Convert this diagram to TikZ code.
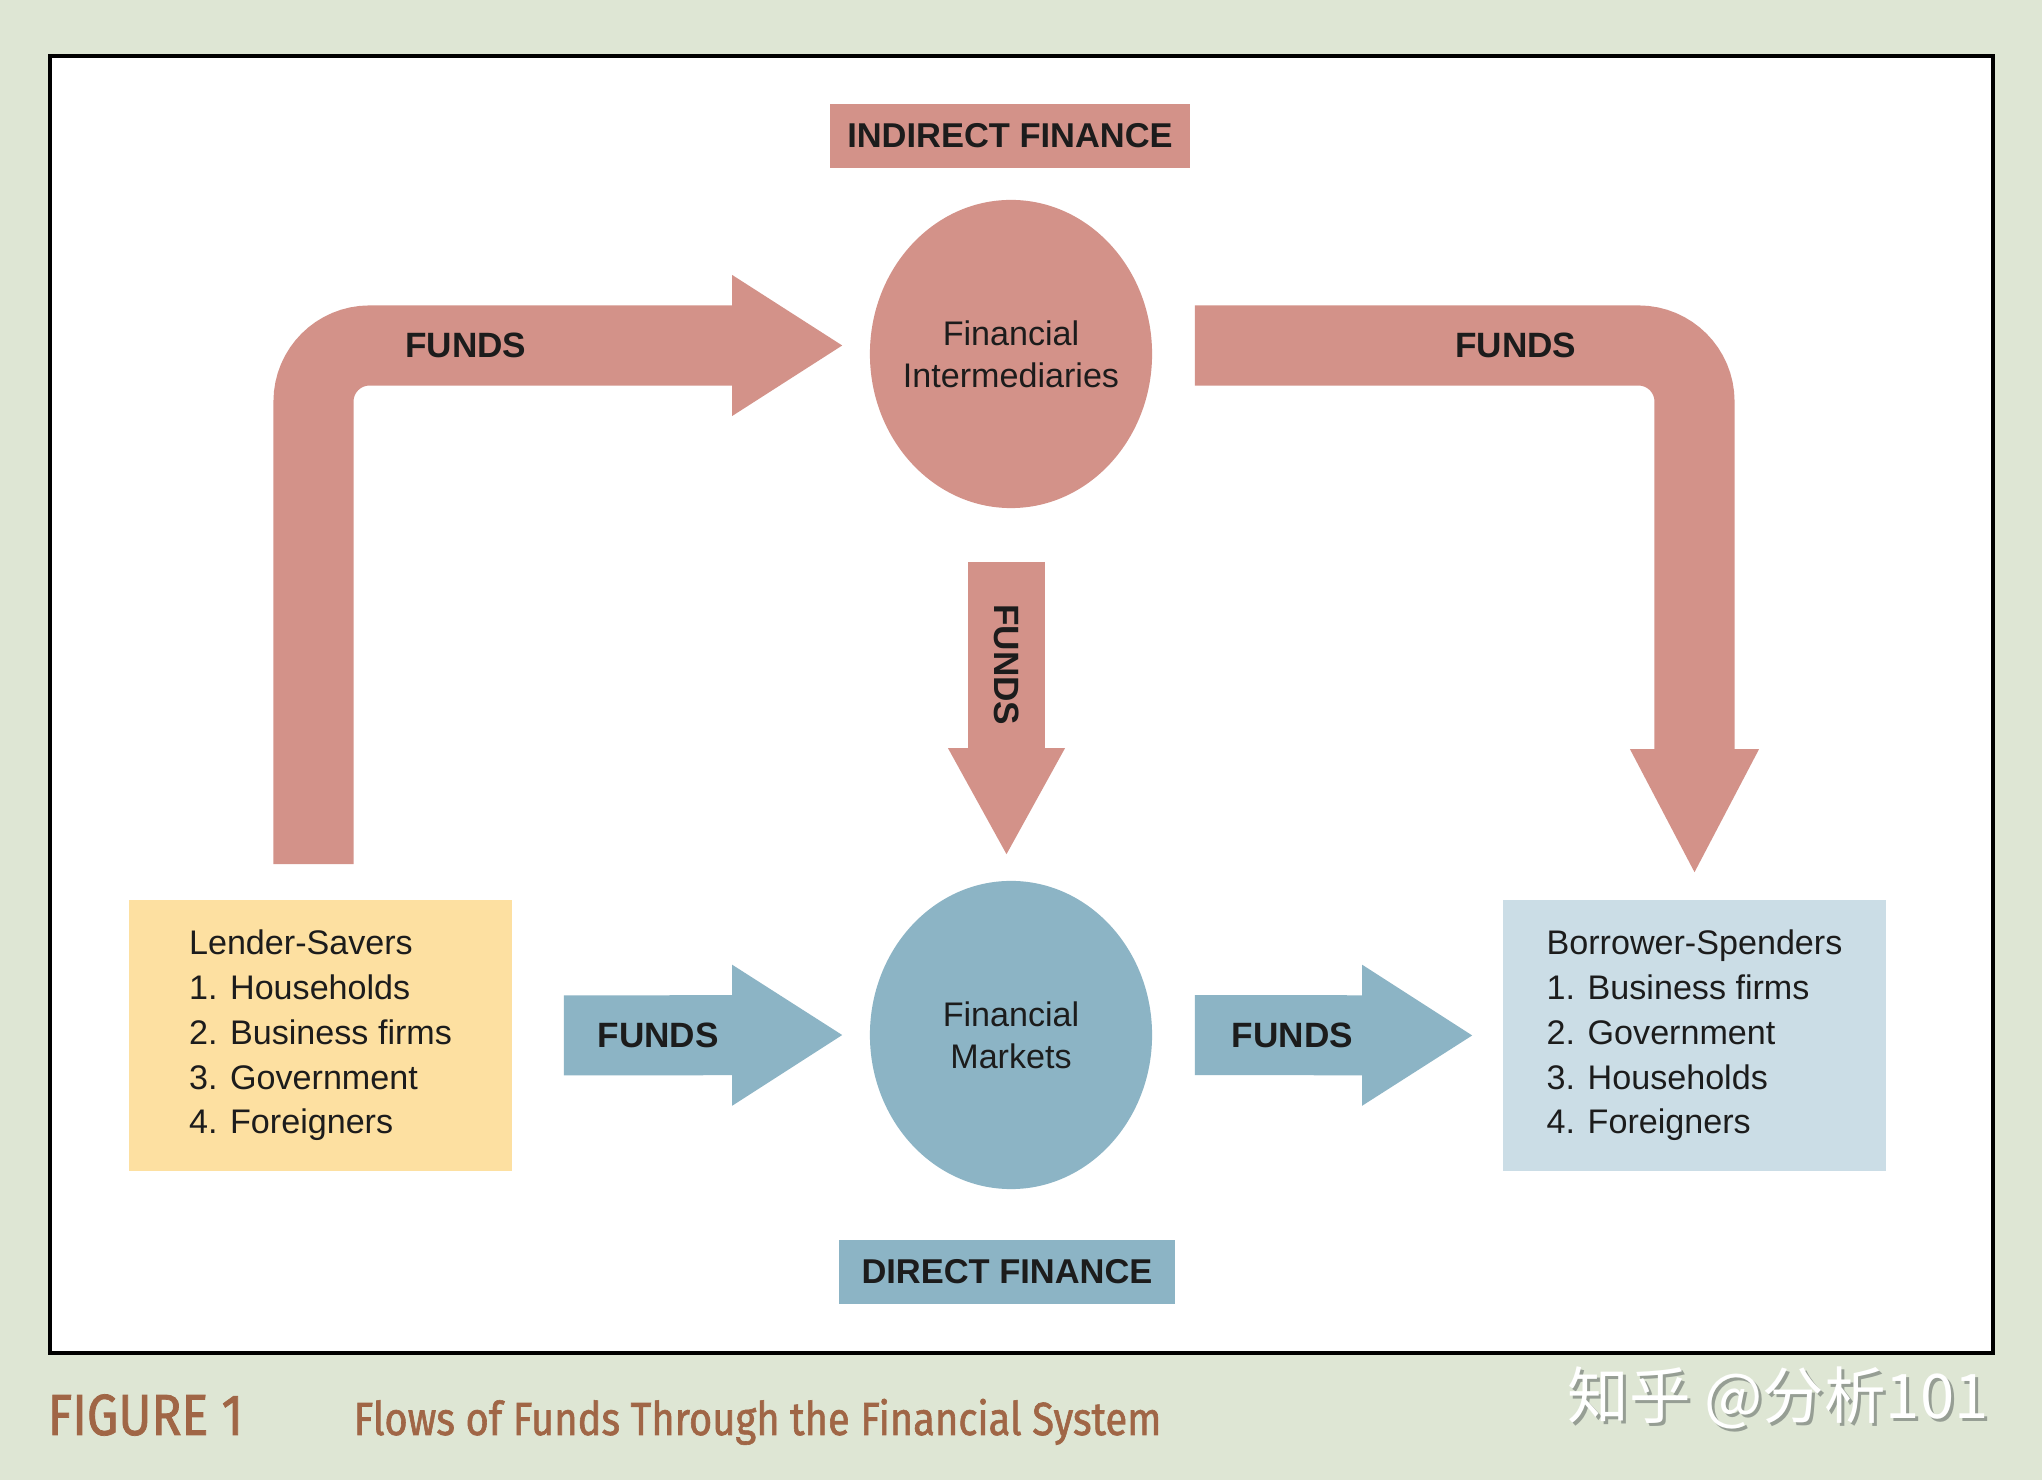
\documentclass[tikz,border=0pt]{standalone}
\usepackage{fontspec}
\setmainfont{Liberation Sans}
\newfontfamily\capfont[FakeStretch=0.86,FakeBold=1.3]{Fira Sans}
\newfontfamily\cjkfont{Noto Sans CJK SC}
\usetikzlibrary{arrows.meta}
\usetikzlibrary{shapes.geometric}

\definecolor{rose}{RGB}{211,146,137}
\definecolor{steel}{RGB}{140,180,197}
\definecolor{sand}{RGB}{253,224,161}
\definecolor{mist}{RGB}{203,221,230}
\definecolor{sage}{RGB}{222,230,212}
\definecolor{rust}{RGB}{160,102,70}
\definecolor{ink}{RGB}{28,28,28}
\definecolor{shade}{RGB}{150,158,148}

\tikzset{
  flowline/.style={line width=0.8cm, rounded corners=0.56cm},
  tiphead/.style={-{Triangle[length=1.1cm,width=1.41cm,line width=0pt]}},
  tag/.style={font=\bfseries\fontsize{10}{12}\selectfont, text=ink},
  pool/.style={ellipse, minimum width=2.82cm, minimum height=3.08cm, inner xsep=-0.1cm, inner ysep=0pt, align=center, text=ink, font=\fontsize{9.7}{12}\selectfont},
  sector/.style={rectangle, minimum width=3.83cm, minimum height=2.71cm, align=left, text=ink, font=\fontsize{9.7}{12.75}\selectfont},
  banner/.style={rectangle, minimum height=0.64cm, inner sep=0pt, text=ink, font=\bfseries\fontsize{9.8}{12}\selectfont}
}

\begin{document}
\begin{tikzpicture}[x=0.01cm, y=-0.01cm]
\fill[sage] (0,0) rectangle (2042,1480);
\useasboundingbox (0,0) rectangle (2042,1480);
\draw[line width=1pt, fill=white] (50,56) rectangle (1993,1353);

% indirect finance
\node[banner, fill=rose, minimum width=3.6cm] (indirect) at (1010,136) {INDIRECT FINANCE};
\node[pool, fill=rose] (fi) at (1011,354) {Financial\\Intermediaries};

% direct finance
\node[pool, fill=steel] (fm) at (1011,1035) {Financial\\Markets};
\node[banner, fill=steel, minimum width=3.36cm] (direct) at (1007,1272) {DIRECT FINANCE};

\node[sector, fill=sand] (lenders) at (320.5,1035.5) {Lender-Savers\\1. Households\\2. Business firms\\3. Government\\4. Foreigners};
\node[sector, fill=mist] (borrowers) at (1694.5,1035.5) {Borrower-Spenders\\1. Business firms\\2. Government\\3. Households\\4. Foreigners};

% funds flows
\draw[flowline, tiphead, draw=rose, shorten <=0.35cm, shorten >=0.27cm] ([xshift=-0.07cm]lenders.north) |- ([yshift=0.085cm]fi.west) node[tag, pos=0.637] {FUNDS};
\draw[flowline, draw=rose, -{Triangle[length=1.23cm,width=1.29cm,line width=0pt]}, shorten <=0.42cm, shorten >=0.27cm] ([yshift=0.085cm]fi.east) -| (borrowers.north) node[tag, pos=0.335] {FUNDS};
\draw[draw=rose, line width=0.77cm, -{Triangle[length=1.06cm,width=1.17cm,line width=0pt]}, shorten <=0.53cm, shorten >=0.26cm] ([xshift=-0.045cm]fi.south) -- ([xshift=-0.045cm]fm.north) node[tag, pos=0.42, rotate=-90] {FUNDS};
\draw[flowline, tiphead, draw=steel, shorten <=0.51cm, shorten >=0.27cm] (lenders.east) -- (fm.west) node[tag, pos=0.408] {FUNDS};
\draw[flowline, tiphead, draw=steel, shorten <=0.42cm, shorten >=0.30cm] (fm.east) -- (borrowers.west) node[tag, pos=0.4] {FUNDS};

% caption
\node[anchor=base west, inner sep=0pt, text=rust, font=\capfont\fontsize{16.5}{18}\selectfont] (fig) at (47,1435) {FIGURE 1};
\node[anchor=base west, inner sep=0pt, text=rust, font=\capfont\fontsize{13.2}{15}\selectfont] (title) at (353,1435) {Flows of Funds Through the Financial System};
\node[anchor=base west, inner sep=0pt, text=shade, font=\cjkfont\fontsize{17.5}{20}\selectfont] (markshadow) at (1570,1422) {知乎 @分析101};
\node[anchor=base west, inner sep=0pt, text=white, font=\cjkfont\fontsize{17.5}{20}\selectfont] (mark) at (1567,1419) {知乎 @分析101};
\end{tikzpicture}
\end{document}
